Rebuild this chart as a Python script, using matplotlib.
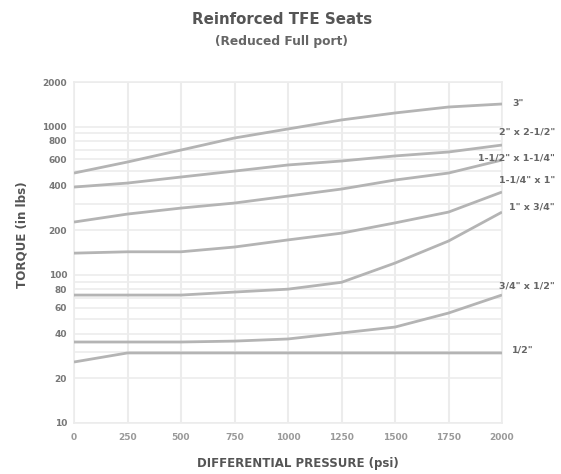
import matplotlib
matplotlib.use("Agg")
import matplotlib.pyplot as plt
from matplotlib.ticker import FixedLocator, NullFormatter, LogLocator

# ---- data ----
pressure = [0, 250, 500, 750, 1000, 1250, 1500, 1750, 2000]
torque_3 = [486, 577, 695, 838, 964, 1109, 1236, 1356, 1421]
torque_2_212 = [391, 416, 457, 501, 551, 586, 634, 674, 751]
torque_112_114 = [227, 257, 282, 305, 340, 379, 436, 486, 595]
torque_114_1 = [140, 143, 143, 154, 172, 191, 224, 265, 362]
torque_1_34 = [73, 73, 73, 76.5, 80, 89, 120, 169, 265]
torque_34_12 = [35.2, 35.2, 35.2, 35.7, 36.9, 40.5, 44.4, 55.2, 73.1]
torque_12 = [25.8, 29.7, 29.7, 29.7, 29.7, 29.7, 29.7, 29.7, 29.7]

series = [torque_3, torque_2_212, torque_112_114, torque_114_1,
          torque_1_34, torque_34_12, torque_12]
series_labels = ['3"', '2" x 2-1/2"', '1-1/2" x 1-1/4"', '1-1/4" x 1"',
                 '1" x 3/4"', '3/4" x 1/2"', '1/2"']

x_ticks = [0, 250, 500, 750, 1000, 1250, 1500, 1750, 2000]
y_ticks = [10, 20, 40, 60, 80, 100, 200, 400, 600, 800, 1000, 2000]

title = "Reinforced TFE Seats"
subtitle = "(Reduced Full port)"
xlabel = "DIFFERENTIAL PRESSURE (psi)"
ylabel = "TORQUE (in lbs)"

# ---- figure ----
fig = plt.figure(figsize=(5.61, 4.74), dpi=100)
ax = fig.add_axes([74 / 561, 51 / 474, 428 / 561, 341 / 474])

line_color = "#b4b4b4"
grid_color = "#ececec"

for s in series:
    ax.plot(pressure, s, color=line_color, lw=2.0, solid_capstyle="butt", zorder=3)

ax.set_yscale("log")
ax.set_xlim(0, 2000)
ax.set_ylim(10, 2000)

ax.xaxis.set_major_locator(FixedLocator(x_ticks))
ax.set_xticklabels([str(v) for v in x_ticks])
ax.yaxis.set_major_locator(FixedLocator(y_ticks))
ax.yaxis.set_minor_locator(LogLocator(base=10, subs=range(1, 10), numticks=20))
ax.yaxis.set_minor_formatter(NullFormatter())
ax.set_yticklabels([str(v) for v in y_ticks])

ax.grid(True, which="both", axis="y", color=grid_color, lw=1.2, zorder=0)
ax.grid(True, which="major", axis="x", color=grid_color, lw=1.5, zorder=0)

for sp in ax.spines.values():
    sp.set_color(grid_color)
    sp.set_linewidth(1.2)

ax.tick_params(axis="both", which="both", length=0)
ax.tick_params(axis="y", pad=5, labelsize=6.5, labelcolor="#777777")
ax.tick_params(axis="x", pad=7, labelsize=6.5, labelcolor="#999999")
for t in ax.get_yticklabels() + ax.get_xticklabels():
    t.set_fontweight("bold")

# end labels
label_pos = [(518, 104, "center"), (555, 132, "right"), (555, 158, "right"),
             (555, 180, "right"), (555, 207, "right"), (555, 286, "right"),
             (523, 350, "center")]
for (px, py, ha), lab in zip(label_pos, series_labels):
    fig.text(px / 561, 1 - py / 474, lab, ha=ha, va="center", fontsize=6.8,
             fontweight="bold", color="#666666")

fig.text(282 / 561, 1 - 20 / 474, title, ha="center", va="center",
         fontsize=10.8, fontweight="bold", color="#555555")
fig.text(281 / 561, 1 - 41 / 474, subtitle, ha="center", va="center",
         fontsize=8.8, fontweight="bold", color="#666666")
fig.text(298 / 561, 1 - 463 / 474, xlabel, ha="center", va="center",
         fontsize=8.5, fontweight="bold", color="#555555")
fig.text(22 / 561, 1 - 235 / 474, ylabel, ha="center", va="center",
         rotation=90, fontsize=8.6, fontweight="bold", color="#555555")

fig.savefig("out.png", dpi=100, facecolor="white")
